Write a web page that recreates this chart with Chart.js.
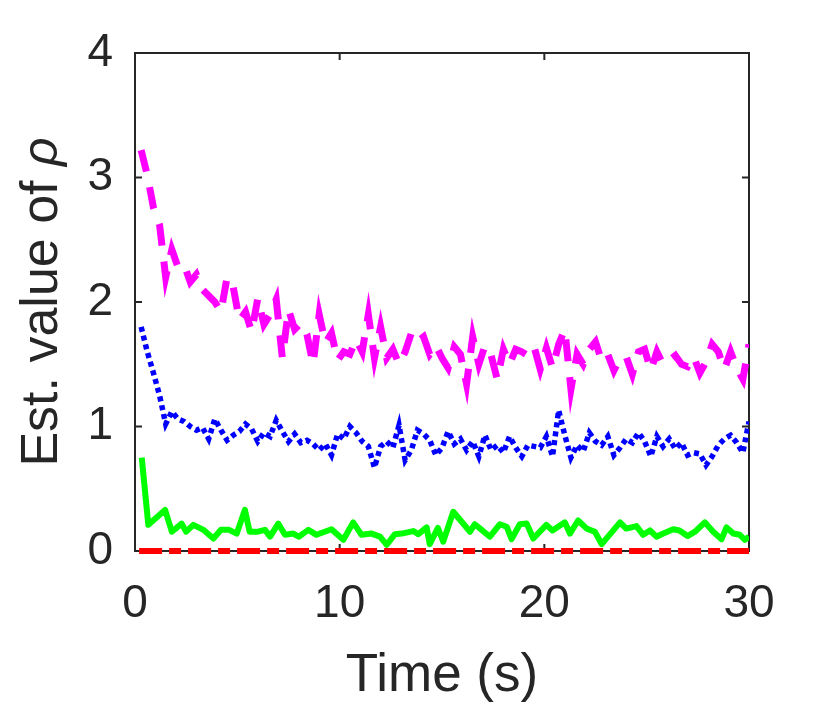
<!DOCTYPE html>
<html>
<head>
<meta charset="utf-8">
<script src="https://cdn.jsdelivr.net/npm/chart.js@4.4.1/dist/chart.umd.min.js"></script>
<style>
  html, body { margin: 0; padding: 0; background: #fff; }
  #wrap { width: 830px; height: 712px; }
</style>
</head>
<body>
<div id="wrap"><canvas id="rhoChart" width="830" height="712"></canvas></div>
<script>
// time samples (s) shared by the dashed and dotted estimates
const timeGrid = [
  0.3, 0.6, 0.9, 1.2, 1.5, 1.8, 2.1, 2.4, 2.7, 3.0,
  3.3, 3.6, 3.9, 4.2, 4.5, 4.8, 5.1, 5.4, 5.7, 6.0,
  6.3, 6.6, 6.9, 7.2, 7.5, 7.8, 8.1, 8.4, 8.7, 9.0,
  9.3, 9.6, 9.9, 10.2, 10.5, 10.8, 11.1, 11.4, 11.7, 12.0,
  12.3, 12.6, 12.9, 13.2, 13.5, 13.8, 14.1, 14.4, 14.7, 15.0,
  15.3, 15.6, 15.9, 16.2, 16.5, 16.8, 17.1, 17.4, 17.7, 18.0,
  18.3, 18.6, 18.9, 19.2, 19.5, 19.8, 20.1, 20.4, 20.7, 21.0,
  21.3, 21.6, 21.9, 22.2, 22.5, 22.8, 23.1, 23.4, 23.7, 24.0,
  24.3, 24.6, 24.9, 25.2, 25.5, 25.8, 26.1, 26.4, 26.7, 27.0,
  27.3, 27.6, 27.9, 28.2, 28.5, 28.8, 29.1, 29.4, 29.7, 30.0
];

const rhoMagenta = [
  3.22, 3.02, 2.76, 2.62, 2.20, 2.42, 2.28, 2.30, 2.16, 2.22,
  2.10, 2.05, 2.00, 1.92, 2.20, 2.12, 1.85, 1.92, 1.76, 2.03,
  1.82, 1.90, 2.02, 1.55, 1.94, 1.78, 1.83, 1.74, 1.50, 1.90,
  1.67, 1.75, 1.53, 1.60, 1.58, 1.70, 1.60, 1.90, 1.55, 1.80,
  1.55, 1.62, 1.50, 1.60, 1.75, 1.68, 1.72, 1.58, 1.65, 1.55,
  1.47, 1.64, 1.58, 1.34, 1.72, 1.50, 1.65, 1.57, 1.38, 1.62,
  1.50, 1.62, 1.60, 1.57, 1.64, 1.46, 1.63, 1.47, 1.66, 1.78,
  1.30, 1.58, 1.50, 1.62, 1.68, 1.53, 1.58, 1.45, 1.55, 1.56,
  1.42, 1.60, 1.62, 1.45, 1.60, 1.50, 1.53, 1.57, 1.50, 1.48,
  1.56, 1.43, 1.52, 1.66, 1.60, 1.46, 1.60, 1.47, 1.38, 1.66
];

const rhoBlue = [
  1.80, 1.60, 1.43, 1.25, 1.02, 1.12, 1.06, 1.04, 1.00, 0.97,
  0.99, 0.90, 1.06, 0.97, 0.89, 0.93, 0.96, 1.02, 0.98, 0.88,
  0.95, 0.92, 1.05, 0.96, 0.88, 0.94, 0.87, 0.89, 0.86, 0.81,
  0.86, 0.77, 0.94, 0.90, 1.00, 0.95, 0.88, 0.84, 0.67, 0.84,
  0.88, 0.83, 1.01, 0.73, 0.81, 0.97, 0.94, 0.89, 0.77, 0.83,
  0.96, 0.86, 0.90, 0.81, 0.88, 0.76, 0.93, 0.81, 0.85, 0.79,
  0.92, 0.83, 0.76, 0.85, 0.84, 0.83, 0.92, 0.76, 1.13, 0.93,
  0.75, 0.85, 0.80, 0.95, 0.88, 0.85, 0.92, 0.77, 0.83, 0.90,
  0.87, 0.95, 0.88, 0.76, 0.92, 0.84, 0.90, 0.82, 0.87, 0.77,
  0.79, 0.78, 0.69, 0.76, 0.85, 0.90, 0.93, 0.87, 0.79, 1.04
];

const greenTimes = [
  0.33, 0.65, 1.47, 1.8, 2.28, 2.5, 2.85, 3.34, 3.83, 4.2,
  4.6, 4.97, 5.37, 5.6, 6.0, 6.35, 6.6, 7.0, 7.33, 7.73,
  8.0, 8.47, 8.87, 9.6, 10.18, 10.66, 11.07, 11.56, 11.97, 12.3,
  12.7, 13.03, 13.6, 13.84, 14.25, 14.4, 14.8, 15.06, 15.55, 15.96,
  16.37, 16.6, 16.94, 17.34, 17.83, 18.16, 18.4, 18.8, 19.14, 19.46,
  20.1, 20.4, 21.0, 21.25, 21.65, 22.07, 22.47, 22.8, 23.7, 24.0,
  24.5, 24.83, 25.16, 25.48, 25.73, 26.3, 26.6, 27.0, 27.36, 27.84,
  28.25, 28.66, 28.9, 29.23, 29.55, 29.8, 30.0
];
const rhoGreen = [
  0.75, 0.21, 0.33, 0.155, 0.22, 0.155, 0.21, 0.17, 0.10, 0.17,
  0.17, 0.14, 0.33, 0.155, 0.155, 0.17, 0.115, 0.22, 0.13, 0.14,
  0.115, 0.17, 0.13, 0.175, 0.09, 0.23, 0.13, 0.14, 0.115, 0.05,
  0.135, 0.14, 0.16, 0.135, 0.19, 0.055, 0.185, 0.075, 0.315, 0.235,
  0.155, 0.215, 0.17, 0.115, 0.215, 0.195, 0.095, 0.215, 0.22, 0.10,
  0.21, 0.165, 0.23, 0.14, 0.245, 0.18, 0.155, 0.055, 0.23, 0.18,
  0.20, 0.13, 0.165, 0.115, 0.135, 0.175, 0.165, 0.12, 0.155, 0.23,
  0.155, 0.095, 0.19, 0.14, 0.13, 0.09, 0.115
];

const redTimes = [0.2, 30];
const rhoRed = [0, 0];

const xTicks = [0, 10, 20, 30];
const yTicks = [0, 1, 2, 3, 4];

const AXIS_COLOR = '#262626';
const FONT = '"Liberation Sans", Arial, Helvetica, sans-serif';

const pts = (xs, ys) => xs.map((t, i) => ({ x: t, y: ys[i] }));

// matlab-style box with inward ticks on all four sides
const boxTicks = {
  id: 'boxTicks',
  beforeDatasetsDraw(chart) {
    const { ctx, chartArea: a, scales: { x, y } } = chart;
    const len = 7;
    ctx.save();
    ctx.strokeStyle = AXIS_COLOR;
    ctx.lineWidth = 2;
    ctx.strokeRect(a.left, a.top, a.right - a.left, a.bottom - a.top);
    ctx.beginPath();
    x.ticks.forEach(t => {
      const px = x.getPixelForValue(t.value);
      ctx.moveTo(px, a.bottom); ctx.lineTo(px, a.bottom - len);
      ctx.moveTo(px, a.top); ctx.lineTo(px, a.top + len);
    });
    y.ticks.forEach(t => {
      const py = y.getPixelForValue(t.value);
      ctx.moveTo(a.left, py); ctx.lineTo(a.left + len, py);
      ctx.moveTo(a.right, py); ctx.lineTo(a.right - len, py);
    });
    ctx.stroke();
    ctx.restore();
  }
};

// y title with an italic rho, like the TeX label
const yTitle = {
  id: 'yTitle',
  afterDraw(chart) {
    const { ctx, chartArea: a } = chart;
    const plain = 'Est. value of ';
    const sym = 'ρ';
    const plainFont = '52px ' + FONT;
    const symFont = 'italic 50px ' + FONT;
    ctx.save();
    ctx.fillStyle = AXIS_COLOR;
    ctx.textBaseline = 'alphabetic';
    ctx.font = plainFont;
    const w1 = ctx.measureText(plain).width;
    ctx.font = symFont;
    const w2 = ctx.measureText(sym).width;
    const cy = (a.top + a.bottom) / 2;
    ctx.translate(57, cy + (w1 + w2) / 2);
    ctx.rotate(-Math.PI / 2);
    ctx.font = plainFont;
    ctx.textAlign = 'left';
    ctx.fillText(plain, 0, 0);
    ctx.font = symFont;
    ctx.fillText(sym, w1, 0);
    ctx.restore();
  }
};

new Chart(document.getElementById('rhoChart').getContext('2d'), {
  type: 'line',
  data: {
    datasets: [
      {
        label: 'magenta',
        data: pts(timeGrid, rhoMagenta),
        borderColor: '#ff00ff',
        borderWidth: 7,
        borderDash: [22, 16],
        borderCapStyle: 'butt'
      },
      {
        label: 'blue',
        data: pts(timeGrid, rhoBlue),
        borderColor: '#0000ff',
        borderWidth: 5.5,
        borderDash: [5, 4],
        borderCapStyle: 'butt'
      },
      {
        label: 'green',
        data: pts(greenTimes, rhoGreen),
        borderColor: '#00ff00',
        borderWidth: 6,
        borderJoinStyle: 'round'
      },
      {
        label: 'red',
        data: pts(redTimes, rhoRed),
        borderColor: '#ff0000',
        borderWidth: 6,
        borderDash: [23, 7, 12, 7],
        borderCapStyle: 'butt',
        clip: false
      }
    ]
  },
  options: {
    responsive: false,
    animation: false,
    devicePixelRatio: 1,
    layout: { padding: { top: 53, right: 81, left: 0, bottom: 0 } },
    elements: { point: { radius: 0 }, line: { tension: 0, fill: false } },
    plugins: { legend: { display: false }, tooltip: { enabled: false } },
    scales: {
      x: {
        type: 'linear',
        min: 0, max: 30,
        afterBuildTicks: s => { s.ticks = xTicks.map(v => ({ value: v })); },
        afterFit: s => { s.height = 161; },
        grid: { display: false, drawTicks: false },
        border: { display: false },
        ticks: { color: AXIS_COLOR, font: { family: FONT, size: 46 }, padding: 26, maxRotation: 0 },
        title: { display: true, text: 'Time (s)', color: AXIS_COLOR, font: { family: FONT, size: 53 }, padding: { top: 0, bottom: 4 } }
      },
      y: {
        type: 'linear',
        min: 0, max: 4,
        afterBuildTicks: s => { s.ticks = yTicks.map(v => ({ value: v })); },
        afterFit: s => { s.width = 135; },
        grid: { display: false, drawTicks: false },
        border: { display: false },
        ticks: { color: AXIS_COLOR, font: { family: FONT, size: 46 }, padding: 22 },
        title: { display: false }
      }
    }
  },
  plugins: [boxTicks, yTitle]
});
</script>
</body>
</html>
